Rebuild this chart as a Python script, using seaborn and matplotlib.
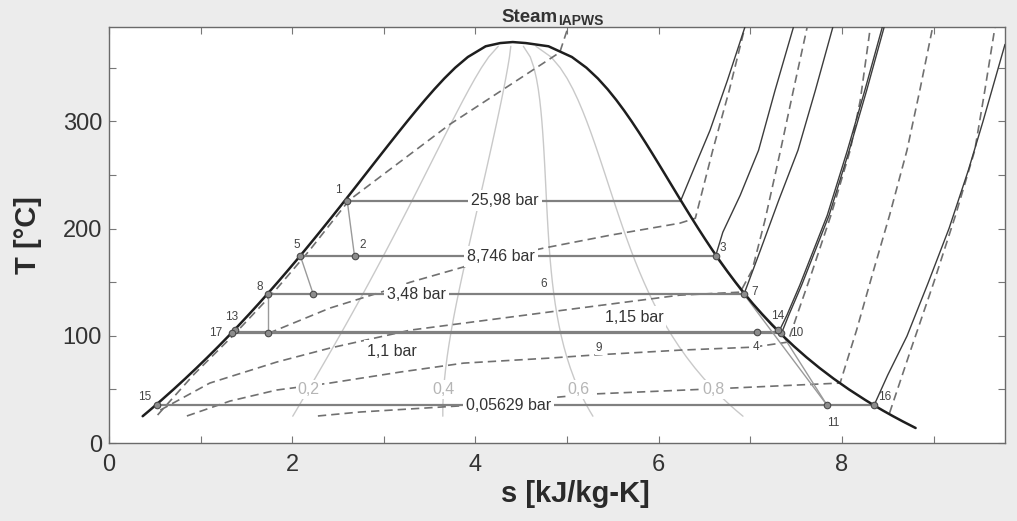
import numpy as np
import matplotlib
matplotlib.use("Agg")
import matplotlib.pyplot as plt
import seaborn as sns

# ---------------------------------------------------------------
# Saturation table of water: T [°C], s of sat. liquid / sat. vapour [kJ/kg-K]
# ---------------------------------------------------------------
sat_T = [14, 20, 25, 30, 35, 40, 50, 60, 70, 80, 90, 100, 110, 120, 130, 140,
         150, 160, 170, 180, 190, 200, 210, 220, 230, 240, 250, 260, 270, 280,
         290, 300, 310, 320, 330, 340, 350, 360, 370, 373, 373.95]
sat_s_liq = [0.2098, 0.2966, 0.3673, 0.4369, 0.5051, 0.5724, 0.7038, 0.8313,
             0.9551, 1.0756, 1.1929, 1.3072, 1.4188, 1.5279, 1.6346, 1.7392,
             1.8418, 1.9426, 2.0417, 2.1392, 2.2355, 2.3305, 2.4245, 2.5177,
             2.6101, 2.7020, 2.7935, 2.8849, 2.9765, 3.0685, 3.1612, 3.2552,
             3.3510, 3.4494, 3.5518, 3.6601, 3.7784, 3.9167, 4.1112, 4.27, 4.407]
sat_s_vap = [8.8043, 8.6672, 8.5580, 8.4533, 8.3531, 8.2570, 8.0763, 7.9096,
             7.7553, 7.6122, 7.4791, 7.3549, 7.2387, 7.1296, 7.0269, 6.9299,
             6.8379, 6.7502, 6.6663, 6.5857, 6.5079, 6.4323, 6.3585, 6.2861,
             6.2146, 6.1437, 6.0730, 6.0019, 5.9301, 5.8571, 5.7821, 5.7045,
             5.6230, 5.5362, 5.4417, 5.3357, 5.2112, 5.0526, 4.7971, 4.55, 4.407]

# vapour quality lines
qualities = [0.2, 0.4, 0.6, 0.8]
quality_labels = ["0,2", "0,4", "0,6", "0,8"]

# ---------------------------------------------------------------
# Isobars: pressure label, saturation temperature, two-phase extent
# ---------------------------------------------------------------
isobar_labels = ["25,98 bar", "8,746 bar", "3,48 bar", "1,15 bar", "1,1 bar", "0,05629 bar"]
isobar_T = [226.0, 174.1, 138.6, 103.5, 102.3, 35.0]
isobar_s_start = [2.60, 2.09, 1.74, 1.35, 1.34, 0.52]
isobar_s_end = [6.24, 6.62, 6.93, 7.31, 7.34, 8.35]
isobar_label_s = [4.32, 4.28, 3.36, 5.73, 3.09, 4.36]
isobar_label_T = [226.0, 174.1, 138.6, 117.4, 85.7, 35.0]

# superheated continuation of the isobars
sup_2598_s = [6.24, 6.40, 6.56, 6.75, 6.94]
sup_2598_T = [226.0, 259.0, 291.6, 338.2, 387.6]
sup_8746_s = [6.62, 6.70, 6.89, 7.09, 7.27, 7.47]
sup_8746_T = [174.1, 196.6, 231.1, 273.0, 328.9, 387.6]
sup_348_s = [6.93, 7.11, 7.31, 7.52, 7.71, 7.90]
sup_348_T = [138.6, 179.8, 226.4, 273.0, 328.9, 387.6]
sup_115_s = [7.31, 7.40, 7.54, 7.84, 8.06, 8.25, 8.44]
sup_115_T = [103.5, 119.3, 147.2, 212.4, 273.0, 328.9, 387.6]
sup_11_s = [7.34, 7.42, 7.56, 7.86, 8.08, 8.27, 8.46]
sup_11_T = [102.3, 119.3, 147.2, 212.4, 273.0, 328.9, 387.6]
sup_0056_s = [8.35, 8.50, 8.71, 8.94, 9.17, 9.38, 9.54, 9.78]
sup_0056_T = [35.0, 63.4, 99.7, 149.1, 200.3, 254.4, 300.0, 371.8]

# ---------------------------------------------------------------
# Isochores (dashed)
# ---------------------------------------------------------------
iso_v1_s = [0.53, 0.93, 1.38, 1.79, 2.19, 2.62, 3.72, 4.92, 5.01]
iso_v1_T = [26.1, 64.3, 102.5, 139.8, 179.8, 226.4, 297.2, 364.3, 387.6]
iso_v2_s = [1.74, 2.41, 3.04, 3.29, 4.05, 4.74, 5.47, 6.23, 6.40, 6.59, 6.77, 6.94]
iso_v2_T = [102.3, 125.8, 142.6, 150.0, 168.6, 181.7, 193.8, 205.0, 209.6, 273.0, 328.9, 387.6]
iso_v3_s = [0.56, 1.10, 1.83, 2.41, 3.29, 4.96, 6.23, 6.89, 7.02, 7.16, 7.33, 7.47, 7.62]
iso_v3_T = [30.7, 55.9, 75.5, 88.5, 105.3, 123.9, 137.9, 140.7, 161.2, 207.8, 273.0, 328.9, 387.6]
iso_v4_s = [0.85, 1.32, 1.83, 2.41, 3.18, 3.87, 4.81, 5.28, 6.23, 7.03, 7.41, 7.51, 7.68, 7.88, 8.09, 8.20, 8.31]
iso_v4_T = [25.2, 39.1, 49.4, 55.9, 66.2, 74.5, 79.2, 82.0, 86.6, 89.4, 94.1, 119.3, 161.2, 212.4, 273.0, 319.6, 387.6]
iso_v5_s = [2.28, 2.74, 3.81, 5.28, 6.78, 7.98, 8.16, 8.33, 8.52, 8.71, 8.85, 8.99]
iso_v5_T = [25.2, 28.9, 34.5, 45.7, 51.2, 55.9, 105.3, 156.5, 212.4, 273.0, 328.9, 387.6]
iso_v6_s = [8.52, 8.75, 9.00, 9.24, 9.45, 9.56, 9.67]
iso_v6_T = [28.0, 86.6, 149.1, 212.4, 273.0, 328.9, 387.6]

# ---------------------------------------------------------------
# Cycle state points
# ---------------------------------------------------------------
state_names = ["1", "2", "3", "4", "5", "7", "8", "10", "11", "13", "14", "15", "16", "17", "a", "b"]
state_s = [2.60, 2.68, 6.62, 7.07, 2.09, 6.93, 1.74, 7.34, 7.84, 1.37, 7.30, 0.52, 8.35, 1.34, 2.23, 1.74]
state_T = [226.0, 174.1, 174.1, 103.5, 174.1, 138.6, 138.6, 102.3, 35.0, 105.3, 105.3, 35.0, 35.0, 102.3, 138.6, 102.3]

# text of the state numbers and where they sit
tag_text = ["1", "2", "3", "4", "5", "6", "7", "8", "9", "10", "11", "13", "14", "15", "16", "17"]
tag_s = [2.50, 2.77, 6.70, 7.06, 2.05, 4.74, 7.05, 1.64, 5.35, 7.51, 7.90, 1.34, 7.30, 0.39, 8.47, 1.16]
tag_T = [235.7, 184.5, 181.7, 89.4, 184.5, 148.1, 140.7, 145.3, 88.5, 102.5, 18.6, 117.4, 118.3, 42.9, 42.9, 102.5]

# process paths between states
process_paths = [["1", "2"], ["5", "a"], ["8", "b"], ["3", "11"], ["7", "10", "11"]]

# ---------------------------------------------------------------
sns.set_style("ticks")
plt.rcParams["font.family"] = ["Liberation Sans", "DejaVu Sans"]

fig = plt.figure(figsize=(10.17, 5.21), dpi=100, facecolor="#ececec")
ax = fig.add_axes([0.1072, 0.1497, 0.8810, 0.7985])
ax.set_facecolor("white")


def line(s, T, **kw):
    sns.lineplot(x=s, y=T, sort=False, estimator=None, ax=ax, legend=False, **kw)


sl = np.array(sat_s_liq)
sv = np.array(sat_s_vap)
tt = np.array(sat_T)

# quality lines (25 .. 370 °C)
q_idx = slice(2, 39)
i50 = sat_T.index(50)
for q, qlab in zip(qualities, quality_labels):
    line(sl[q_idx] + q * (sv[q_idx] - sl[q_idx]), tt[q_idx], color="#c9c9c9", lw=1.0, zorder=1)
    ax.text(sl[i50] + q * (sv[i50] - sl[i50]), 50, qlab, fontsize=11.5, color="#b5b5b5",
            ha="center", va="center", zorder=7,
            bbox=dict(boxstyle="square,pad=0.12", fc="white", ec="none"))

# isochores
dash = (0, (5, 3))
for s_, T_ in [(iso_v1_s, iso_v1_T), (iso_v2_s, iso_v2_T), (iso_v3_s, iso_v3_T),
               (iso_v4_s, iso_v4_T), (iso_v5_s, iso_v5_T), (iso_v6_s, iso_v6_T)]:
    line(s_, T_, color="#707070", lw=1.2, linestyle=dash, zorder=2)

# isobars in the two-phase region
for T_, a, b in zip(isobar_T, isobar_s_start, isobar_s_end):
    line([a, b], [T_, T_], color="#808080", lw=1.6, zorder=3)

# superheated isobars
for s_, T_ in [(sup_2598_s, sup_2598_T), (sup_8746_s, sup_8746_T), (sup_348_s, sup_348_T),
               (sup_115_s, sup_115_T), (sup_11_s, sup_11_T), (sup_0056_s, sup_0056_T)]:
    line(s_, T_, color="#3c3c3c", lw=1.0, zorder=3)

# process paths
lookup = {n: (s, T) for n, s, T in zip(state_names, state_s, state_T)}
for path in process_paths:
    line([lookup[n][0] for n in path], [lookup[n][1] for n in path], color="#9a9a9a", lw=1.0, zorder=3)

# saturation dome
dome_s = sat_s_liq[2:] + sat_s_vap[-2::-1]
dome_T = sat_T[2:] + sat_T[-2::-1]
line(dome_s, dome_T, color="#1e1e1e", lw=1.8, zorder=4)

# state points
sns.scatterplot(x=state_s, y=state_T, s=22, color="#8c8c8c", edgecolor="#4a4a4a",
                linewidth=0.8, zorder=5, ax=ax, legend=False)

for txt, s_, T_ in zip(tag_text, tag_s, tag_T):
    kw = {}
    if txt in ("4", "9"):
        kw["bbox"] = dict(boxstyle="square,pad=0.1", fc="white", ec="none")
    ax.text(s_, T_, txt, fontsize=8.5, color="#444444", ha="center", va="center", zorder=7, **kw)

for lab, s_, T_ in zip(isobar_labels, isobar_label_s, isobar_label_T):
    ax.text(s_, T_, lab, fontsize=11.5, color="#333333", ha="center", va="center", zorder=7,
            bbox=dict(boxstyle="square,pad=0.2", fc="white", ec="none"))

# axes cosmetics
ax.set_xlim(0, 9.78)
ax.set_ylim(0, 388)
ax.set_xticks([0, 2, 4, 6, 8])
ax.set_xticks(np.arange(0, 10, 1), minor=True)
ax.set_yticks([0, 100, 200, 300])
ax.set_yticks(np.arange(0, 390, 50), minor=True)
ax.tick_params(which="both", direction="in", length=5, width=0.8, color="#777777",
               top=True, right=True)
ax.tick_params(which="major", labelsize=17, labelcolor="#333333")
ax.tick_params(axis="x", which="major", pad=8)
ax.tick_params(axis="y", which="major", pad=5)
for sp in ax.spines.values():
    sp.set_color("#6a6a6a")
    sp.set_linewidth(1.0)

ax.set_xlabel("s [kJ/kg-K]", fontsize=21, fontweight="bold", color="#2a2a2a")
ax.set_ylabel("T [°C]", fontsize=21, fontweight="bold", color="#2a2a2a")
ax.xaxis.set_label_coords(0.52, -0.09)
ax.yaxis.set_label_coords(-0.075, 0.5)

fig.text(558 / 1017, 1 - 22 / 521, "Steam", ha="right", va="baseline",
         fontsize=13.5, fontweight="bold", color="#333333")
fig.text(558 / 1017, 1 - 25 / 521, "IAPWS", ha="left", va="baseline",
         fontsize=10, fontweight="bold", color="#333333")

fig.savefig("out.png", dpi=100, facecolor=fig.get_facecolor())
